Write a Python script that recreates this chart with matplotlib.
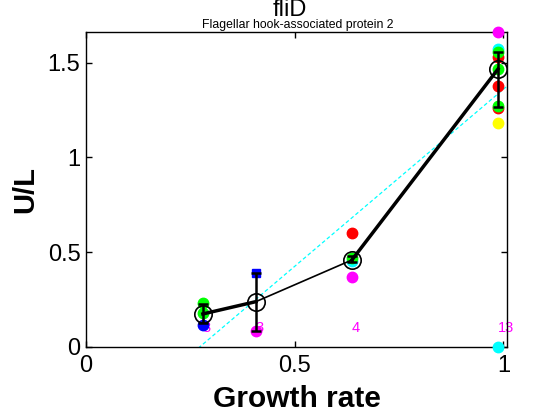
import numpy as np
import matplotlib
matplotlib.use('Agg')
import matplotlib.pyplot as plt

plt.rcParams['font.family'] = ['Liberation Sans', 'DejaVu Sans']

# group positions (growth rate) and summary values
growth = [0.28, 0.407, 0.637, 0.987]
mean_ul = [0.173, 0.238, 0.458, 1.466]
err_low = [0.127, 0.085, 0.449, 1.267]
err_high = [0.227, 0.391, 0.478, 1.557]
seg_width = [2.5, 1.2, 2.5]
counts = ['3', '3', '4', '13']

# individual replicate points: (group index, value, colour, marker)
pt_group = [0, 0, 0, 1, 1, 2, 2, 2, 2, 3, 3, 3, 3, 3, 3, 3, 3, 3, 3]
pt_value = [0.229, 0.18, 0.115, 0.391, 0.085, 0.60, 0.452, 0.468, 0.368,
            1.66, 1.57, 1.528, 1.557, 1.466, 1.376, 1.259, 1.271, 1.18, 0.0]
pt_color = ['#00ff00', '#00ff00', '#0000ff', '#0000ff', '#ff00ff',
            '#ff0000', '#00ffff', '#00ff00', '#ff00ff',
            '#ff00ff', '#00ffff', '#ff0000', '#00ff00', '#00ff00', '#ff0000',
            '#ff0000', '#00ff00', '#ffff00', '#00ffff']
pt_marker = ['o', 'o', 'o', 's', 'o', 'o', 'o', 'o', 'o',
             'o', 'o', 'o', 'o', 'o', 'o', 'o', 'o', 'o', 'o']

# linear fit shown as dashed cyan line
fit_x = [0.0, 1.0086]
fit_slope = 1.87
fit_x0 = 0.273

fig = plt.figure(figsize=(5.6, 4.2), dpi=100)
ax = fig.add_axes([0.1536, 0.1745, 0.7518, 0.7486])

fit_y = [fit_slope * (x - fit_x0) for x in fit_x]
ax.plot(fit_x, fit_y, color='#00ffff', linestyle=(0, (3, 2)), linewidth=0.9, zorder=1)

for i, c in enumerate(counts):
    ax.text(growth[i], 0.1, c, color='#ff00ff', fontsize=10.5, ha='left', va='center', zorder=2)

for g, v, c, m in zip(pt_group, pt_value, pt_color, pt_marker):
    ax.plot(growth[g], v, marker=m, color=c, markersize=7.5 if m == 'o' else 5.5,
            linestyle='none', clip_on=False, zorder=3)

for i in range(len(growth) - 1):
    ax.plot(growth[i:i + 2], mean_ul[i:i + 2], color='k', linewidth=seg_width[i], zorder=4)

yerr = [np.array(mean_ul) - np.array(err_low), np.array(err_high) - np.array(mean_ul)]
ax.errorbar(growth, mean_ul, yerr=yerr, fmt='none', ecolor='k', elinewidth=1.8,
            capsize=3.5, capthick=1.8, zorder=5)
ax.plot(growth, mean_ul, 'o', markerfacecolor='none', markeredgecolor='k',
        markersize=12.5, markeredgewidth=1.2, zorder=6)

ax.set_xlim(0, 1.0086)
ax.set_ylim(0, 1.66)
ax.set_xticks([0, 0.5, 1])
ax.set_xticklabels(['0', '0.5', '1'])
ax.set_yticks([0, 0.5, 1, 1.5])
ax.set_yticklabels(['0', '0.5', '1', '1.5'])
ax.tick_params(direction='in', length=4, width=1, labelsize=17, top=True, right=True)
ax.tick_params(axis='x', pad=6)
ax.tick_params(axis='y', pad=4)
for s in ax.spines.values():
    s.set_linewidth(1)

ax.set_xlabel('Growth rate', fontsize=21.5, fontweight='bold', labelpad=6)
ax.set_ylabel('U/L', fontsize=21, fontweight='bold', labelpad=6)

fig.text(0.518, 0.976, 'fliD', fontsize=17, ha='center', va='center')
fig.text(0.531, 0.94, 'Flagellar hook-associated protein 2', fontsize=8.8, ha='center', va='center')

fig.savefig('out.png', dpi=100)
